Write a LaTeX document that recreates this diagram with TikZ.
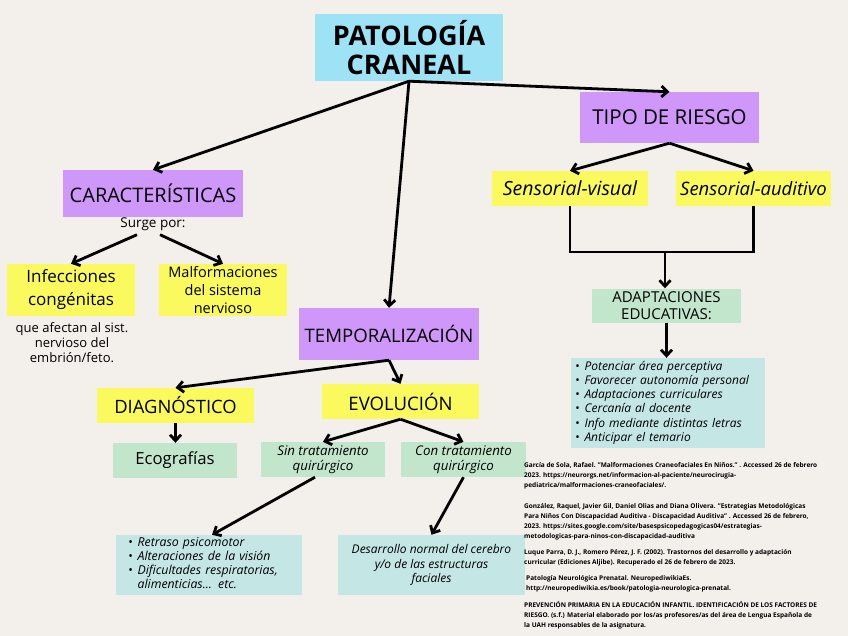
\documentclass[tikz,border=0pt]{standalone}
\usepackage{fontspec}
\setmainfont{Open Sans}
\usetikzlibrary{arrows.meta}
\definecolor{bgc}{RGB}{243,239,234}
\definecolor{cyanc}{RGB}{158,226,246}
\definecolor{purp}{RGB}{208,151,250}
\definecolor{yell}{RGB}{250,250,95}
\definecolor{greenc}{RGB}{193,230,203}
\definecolor{tealc}{RGB}{196,230,229}
\begin{document}
\begin{tikzpicture}[x=1pt,y=-1pt,
  box/.style={rectangle, inner sep=0pt, align=center, text=black},
  plain/.style={inner sep=0pt, align=center, text=black},
  arr/.style={line width=2.8pt, -{Straight Barb[length=6pt,width=11pt,line width=2.8pt]}},
  ln/.style={line width=2.8pt},
  refs/.style={inner sep=0pt, align=left, anchor=north west, font=\bfseries\fontsize{6.5}{10}\selectfont}]
\fill[bgc] (0,0) rectangle (848,636);
\useasboundingbox (0,0) rectangle (848,636);

% main nodes
\node[box, fill=cyanc, minimum width=188pt, minimum height=67pt, font=\bfseries\fontsize{27}{29}\selectfont] (title) at (409,47.5) {PATOLOGÍA\\CRANEAL};
\node[box, fill=purp, minimum width=180pt, minimum height=47pt, font=\fontsize{20}{22}\selectfont] (car) at (153,193.5) {CARACTERÍSTICAS};
\node[plain, font=\fontsize{13.5}{15}\selectfont] (surge) at (153,224) {Surge por:};
\node[box, fill=yell, minimum width=128pt, minimum height=52pt, font=\fontsize{17}{23}\selectfont] (inf) at (71,290) {Infecciones\\congénitas};
\node[box, fill=yell, minimum width=128pt, minimum height=52pt, font=\fontsize{14.5}{18}\selectfont] (mal) at (223,290) {Malformaciones\\del sistema\\nervioso};
\node[plain, font=\fontsize{13}{15}\selectfont] (que) at (72,343) {que afectan al sist.\\nervioso del\\embrión/feto.};

\node[box, fill=purp, minimum width=179pt, minimum height=51pt, font=\fontsize{20.5}{22}\selectfont] (tipo) at (669.5,117.5) {TIPO DE RIESGO};
\node[box, fill=yell, minimum width=156pt, minimum height=35pt, font=\itshape\fontsize{19.5}{22}\selectfont] (sv) at (570,188.5) {Sensorial-visual};
\node[box, fill=yell, minimum width=155pt, minimum height=35pt, font=\itshape\fontsize{18.5}{22}\selectfont] (sa) at (753.5,188.5) {Sensorial-auditivo};
\coordinate (br) at (665,252);
\node[box, fill=greenc, minimum width=149pt, minimum height=34pt, font=\fontsize{15}{17}\selectfont] (adapt) at (666.5,305.5) {ADAPTACIONES\\EDUCATIVAS:};
\node[box, fill=tealc, minimum width=194pt, minimum height=90pt, inner xsep=4pt, text width=186pt, align=left, font=\itshape\fontsize{12}{14.2}\selectfont] (list2) at (668,403)
  {\begin{tabular}{@{}l@{\hspace{5pt}}l@{}}
   • & Potenciar área perceptiva\\
   • & Favorecer autonomía personal\\
   • & Adaptaciones curriculares\\
   • & Cercanía al docente\\
   • & Info mediante distintas letras\\
   • & Anticipar el temario
   \end{tabular}};

\node[box, fill=purp, minimum width=180pt, minimum height=52pt, font=\fontsize{18.6}{20}\selectfont] (temp) at (389,334) {TEMPORALIZACIÓN};
\node[box, fill=yell, minimum width=157pt, minimum height=35pt, font=\fontsize{18.4}{20}\selectfont] (diag) at (175.5,405.5) {DIAGNÓSTICO};
\node[box, fill=yell, minimum width=157pt, minimum height=35pt, font=\fontsize{18.6}{20}\selectfont] (evol) at (400.5,401.5) {EVOLUCIÓN};
\node[box, fill=greenc, minimum width=124pt, minimum height=35pt, font=\fontsize{16.7}{18}\selectfont] (eco) at (175,460.5) {Ecografías};
\node[box, fill=greenc, minimum width=124pt, minimum height=35pt, font=\itshape\fontsize{13.3}{15}\selectfont] (sin) at (323,459.5) {Sin tratamiento\\quirúrgico};
\node[box, fill=greenc, minimum width=125pt, minimum height=35pt, font=\itshape\fontsize{13.3}{15}\selectfont] (con) at (463.5,459.5) {Con tratamiento\\quirúrgico};
\node[box, fill=tealc, minimum width=186pt, minimum height=60pt, inner xsep=12pt, text width=162pt, align=left, font=\itshape\fontsize{12.3}{14}\selectfont] (list1) at (209,565)
  {\begin{tabular}{@{}l@{\hspace{5pt}}l@{}}
   • & Retraso psicomotor\\
   • & Alteraciones de la visión\\
   • & Dificultades respiratorias,\\
     & alimenticias... etc.
   \end{tabular}};
\node[box, fill=tealc, minimum width=187pt, minimum height=60pt, font=\itshape\fontsize{12}{14.5}\selectfont] (des) at (431.5,565) {Desarrollo normal del cerebro\\y/o de las estructuras\\faciales};

% references
\node[refs] (r1) at (524,462) {García de Sola, Rafael. "Malformaciones Craneofaciales En Niños." . Accessed 26 de febrero\\2023. https://neurorgs.net/informacion-al-paciente/neurocirugia-\\pediatrica/malformaciones-craneofaciales/.};
\node[refs] (r2) at (524,503) {González, Raquel, Javier Gil, Daniel Olias and Diana Olivera. "Estrategias Metodológicas\\Para Niños Con Discapacidad Auditiva - Discapacidad Auditiva" . Accessed 26 de febrero,\\2023. https://sites.google.com/site/basespsicopedagogicas04/estrategias-\\metodologicas-para-ninos-con-discapacidad-auditiva};
\node[refs] (r3) at (524,549) {Luque Parra, D. J., Romero Pérez, J. F. (2002). Trastornos del desarrollo y adaptación\\curricular (Ediciones Aljibe). Recuperado el 26 de febrero de 2023.};
\node[refs] (r4) at (526,575) {Patología Neurológica Prenatal. NeuropediwikiaEs.\\http://neuropediwikia.es/book/patologia-neurologica-prenatal.};
\node[refs] (r5) at (524,601) {PREVENCIÓN PRIMARIA EN LA EDUCACIÓN INFANTIL. IDENTIFICACIÓN DE LOS FACTORES DE\\RIESGO. (s.f.) Material elaborado por los/as profesores/as del área de Lengua Española de\\la UAH responsables de la asignatura.};

% connectors
\draw[arr] (title.south) -- (car.north);
\draw[arr] (title.south) -- (temp.north);
\draw[arr] (title.south) -- (tipo.north);
\draw[arr] ([xshift=-16pt,yshift=-4pt]surge.south) -- (inf.north);
\draw[arr] ([xshift=7pt,yshift=-4pt]surge.south) -- (mal.north);
\draw[arr] (tipo.south) -- (sv.north);
\draw[arr] (tipo.south) -- (sa.north);
\draw[ln] (sv.south) -- (sv.south |- br) -- (sa.south |- br) -- (sa.south);
\draw[arr] (br) -- (br |- adapt.north);
\draw[arr] (adapt.south) -- (adapt.south |- list2.north);
\draw[arr] (temp.south) -- (diag.north);
\draw[arr] (temp.south) -- (evol.north);
\draw[arr] (diag.south) -- (diag.south |- eco.north);
\draw[arr] (evol.south) -- (sin.north);
\draw[arr] (evol.south) -- (con.north);
\draw[arr] ([xshift=-8pt]sin.south) -- ([xshift=3pt]list1.north);
\draw[arr] (con.south) -- (des.north);
\end{tikzpicture}
\end{document}
